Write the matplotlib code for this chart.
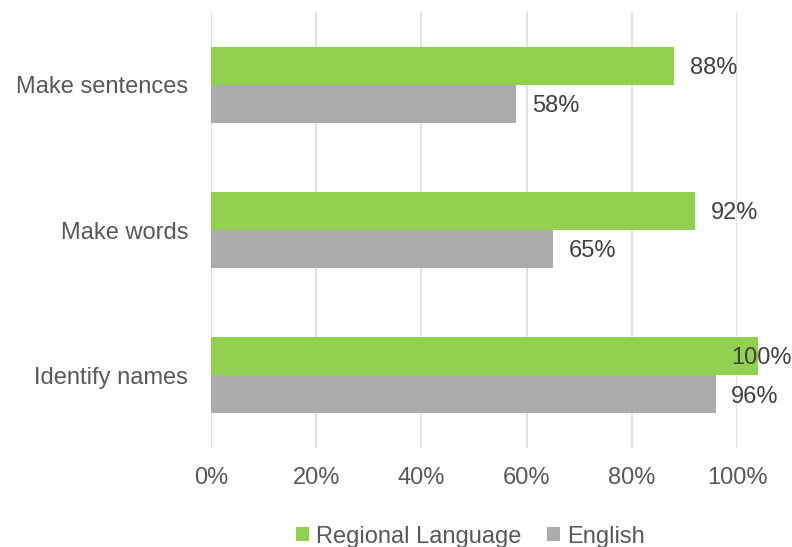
import matplotlib
matplotlib.use('Agg')
import matplotlib.pyplot as plt
from matplotlib.patches import Patch
from matplotlib import rcParams

rcParams['font.family'] = ['Liberation Sans', 'DejaVu Sans']

# data, bottom to top
categories = ['Identify names', 'Make words', 'Make sentences']
regional = [104, 92, 88]          # bar length as drawn
regional_labels = ['100%', '92%', '88%']
english = [96, 65, 58]
english_labels = ['96%', '65%', '58%']
xticks = [0, 20, 40, 60, 80, 100]

green = '#92D050'
grey = '#AAABAD'

fig = plt.figure(figsize=(7.92, 5.47), dpi=100)
ax = fig.add_axes([0.2664, 0.181, 0.9306 - 0.2664, 0.978 - 0.181])

h = 0.262
ypos = list(range(len(categories)))
ax.barh(ypos, regional, height=h, align='edge', color=green, clip_on=False, zorder=3)
ax.barh(ypos, english, height=-h, align='edge', color=grey, clip_on=False, zorder=3)

dy = 0.015
for y, v, t in zip(ypos, regional, regional_labels):
    ax.text(min(v + 3.1, 98.9), y + h / 2 - dy, t, ha='left', va='center',
            fontsize=17, color='#404040', zorder=4, clip_on=False)
for y, v, t in zip(ypos, english, english_labels):
    ax.text(min(v + 3.1, 98.9), y - h / 2 - dy, t, ha='left', va='center',
            fontsize=17, color='#404040', zorder=4, clip_on=False)

ax.set_xlim(0, 100)
ax.set_ylim(-0.5, 2.5)
ax.set_xticks(xticks)
ax.set_xticklabels(['%d%%' % x for x in xticks])
ax.set_yticks(ypos)
ax.set_yticklabels(categories)
ax.tick_params(axis='both', length=0, labelsize=17, labelcolor='#595959')
ax.tick_params(axis='y', pad=16.5)
ax.tick_params(axis='x', pad=13.5)
ax.xaxis.grid(True, color='#D9D9D9', linewidth=1.1, zorder=0)
ax.set_axisbelow(True)
for s in ax.spines.values():
    s.set_visible(False)

handles = [Patch(facecolor=green, edgecolor='none'), Patch(facecolor=grey, edgecolor='none')]
fig.legend(handles, ['Regional Language', 'English'], loc='center',
           bbox_to_anchor=(0.594, 0.019), ncol=2, frameon=False,
           fontsize=17, labelcolor='#595959', handlelength=0.55, handleheight=0.55,
           handletextpad=0.3, columnspacing=1.1)

fig.savefig('out.png', dpi=100)
